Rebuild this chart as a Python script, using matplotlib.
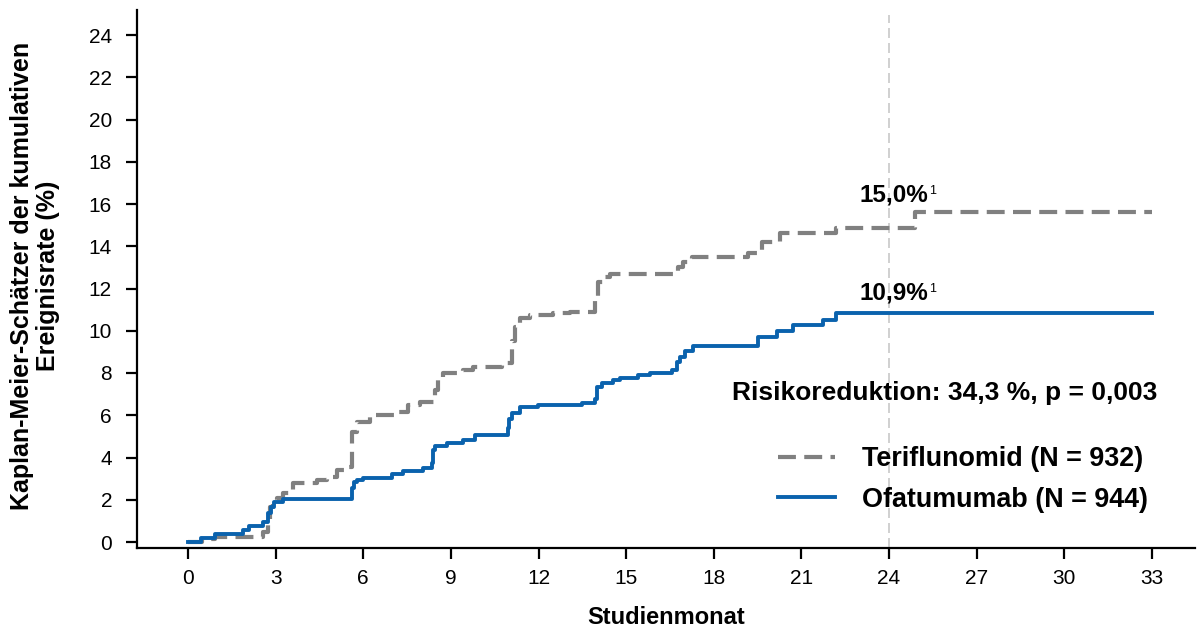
import matplotlib
matplotlib.use("Agg")
import matplotlib.pyplot as plt

plt.rcParams['font.family'] = ['Liberation Sans', 'DejaVu Sans']

# ---- data ----
ofa_t = [0, 0.45, 0.92, 1.88, 2.1, 2.58, 2.75, 2.85, 2.95, 3.25, 5.6, 5.68, 5.8, 6.0,
         6.97, 7.37, 8.05, 8.35, 8.4, 8.45, 8.85, 9.41, 9.83, 10.95, 11.0, 11.1, 11.36,
         11.98, 13.5, 13.93, 14.0, 14.16, 14.55, 14.79, 15.4, 15.8, 16.56, 16.75, 16.85,
         17.0, 17.3, 19.5, 20.17, 20.7, 21.75, 22.2, 33.0]
ofa_v = [0, 0.17, 0.37, 0.57, 0.76, 0.96, 1.37, 1.67, 1.9, 2.05, 2.55, 2.85, 2.95, 3.05,
         3.2, 3.37, 3.5, 3.73, 4.35, 4.55, 4.68, 4.83, 5.07, 5.4, 5.8, 6.1, 6.4,
         6.47, 6.6, 6.75, 7.35, 7.54, 7.67, 7.76, 7.9, 8.0, 8.14, 8.5, 8.77,
         9.05, 9.28, 9.72, 10.0, 10.27, 10.5, 10.83, 10.83]

ter_t = [0, 0.47, 0.92, 2.58, 2.75, 2.8, 2.9, 3.03, 3.26, 3.6, 4.4, 4.75, 5.09, 5.49,
         5.6, 5.77, 6.23, 7.14, 7.53, 7.94, 8.46, 8.55, 8.73, 9.41, 9.76, 10.74, 11.1,
         11.2, 11.37, 11.7, 12.5, 13.08, 13.95, 14.05, 14.2, 14.45, 16.78, 16.95, 17.24,
         19.17, 19.64, 20.27, 22.2, 24.89, 33.0]
ter_v = [0, 0.15, 0.25, 0.49, 1.04, 1.67, 1.9, 2.07, 2.3, 2.78, 2.93, 3.1, 3.4, 3.57,
         5.22, 5.7, 6.0, 6.17, 6.49, 6.64, 7.2, 7.67, 7.98, 8.14, 8.27, 8.46, 9.5,
         10.2, 10.59, 10.75, 10.83, 10.9, 11.6, 12.3, 12.56, 12.69, 13.03, 13.27, 13.48,
         13.7, 14.22, 14.64, 14.85, 15.6, 15.6]

ter_label = "Teriflunomid (N = 932)"
ofa_label = "Ofatumumab (N = 944)"
ter_end_text = "15,0%"
ofa_end_text = "10,9%"
risk_text = "Risikoreduktion: 34,3 %, p = 0,003"
x_ticks = list(range(0, 34, 3))
y_ticks = list(range(0, 25, 2))
landmark = 24

blue = '#0a62ad'
gray = '#808080'

fig = plt.figure(figsize=(11.99, 6.32), dpi=100)
ax = fig.add_axes([137/1199, 1 - 548/632, (1195-137)/1199, (548-10)/632])

ax.axvline(landmark, ymin=0, ymax=(548-15)/538, color='#c8c8c8', lw=1.2,
           dashes=(6, 3), zorder=1)

l_ter, = ax.step(ter_t, ter_v, where='post', color=gray, lw=3.0,
                 dashes=(4.3, 2.0), label=ter_label, zorder=3)
l_ofa, = ax.step(ofa_t, ofa_v, where='post', color=blue, lw=2.8,
                 label=ofa_label, zorder=4)

ax.set_xlim((137-188)/29.21, (1195-188)/29.21)
ax.set_ylim((542-548)/21.125, (542-10)/21.125)
ax.set_xticks(x_ticks)
ax.set_yticks(y_ticks)
ax.tick_params(axis='both', direction='out', length=8, width=1.6, labelsize=15,
               color='black')
ax.tick_params(axis='y', pad=10)
ax.tick_params(axis='x', pad=7)

for s in ['top', 'right']:
    ax.spines[s].set_visible(False)
for s in ['left', 'bottom']:
    ax.spines[s].set_linewidth(1.6)

ax.set_xlabel("Studienmonat", fontsize=17, fontweight='bold')
ax.xaxis.set_label_coords(0.5, (548-606)/538)
fig.text(35/1199, 1 - 276/632, "Kaplan-Meier-Schätzer der kumulativen\nEreignisrate (%)",
         rotation=90, ha='center', va='center', multialignment='center',
         fontsize=18, fontweight='bold', linespacing=1.08)

# end labels
t1 = ax.text(23.0, 16.43, ter_end_text, fontsize=17.5, fontweight='bold',
             ha='left', va='center')
ax.annotate("1", xy=(1, 0.92), xycoords=t1, xytext=(0, 0), textcoords='offset points',
            fontsize=9, ha='left', va='top')
t2 = ax.text(23.0, 11.79, ofa_end_text, fontsize=17.5, fontweight='bold',
             ha='left', va='center')
ax.annotate("1", xy=(1, 0.92), xycoords=t2, xytext=(0, 0), textcoords='offset points',
            fontsize=9, ha='left', va='top')

ax.text(25.92, 7.05, risk_text, fontsize=19, fontweight='bold', ha='center', va='center')

leg = ax.legend(handles=[l_ter, l_ofa], loc='upper left',
                bbox_to_anchor=((778-137)/1058, (548-446)/538),
                frameon=False, fontsize=19.4, handlelength=2.1, handletextpad=1.0,
                labelspacing=0.55, borderpad=0, borderaxespad=0)
for t in leg.get_texts():
    t.set_fontweight('bold')

fig.savefig("out.png", dpi=100)
